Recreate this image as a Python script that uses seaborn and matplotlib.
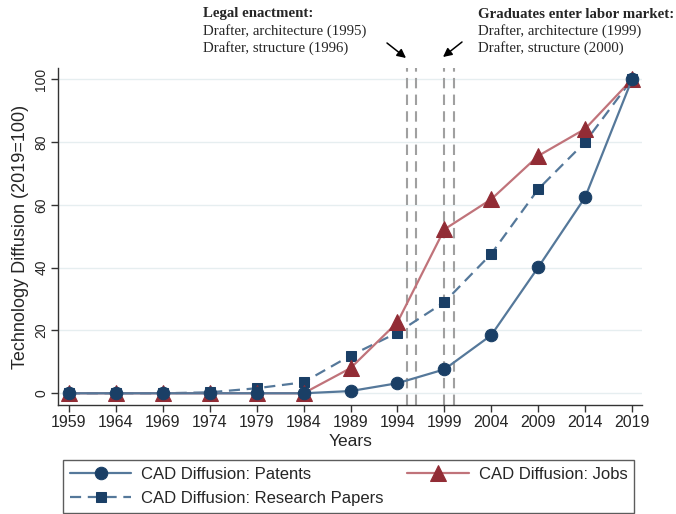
import pandas as pd
import matplotlib.pyplot as plt
import seaborn as sns

# Data
years = [1959, 1964, 1969, 1974, 1979, 1984, 1989, 1994, 1999, 2004, 2009, 2014, 2019]
patents = [0, 0, 0, 0, 0, 0, 0.7, 3.2, 7.6, 18.5, 40.1, 62.4, 100]
jobs = [0, 0, 0, 0, 0, 0, 8.0, 22.6, 52.2, 61.8, 75.6, 84.2, 100]
papers = [0, 0, 0, 0.3, 1.6, 3.5, 12.0, 19.3, 29.0, 44.4, 65.0, 80.0, 100]
event_years = [1995, 1996, 1999, 2000]
y_ticks = [0, 20, 40, 60, 80, 100]

df = pd.DataFrame({'Years': years, 'Patents': patents, 'Jobs': jobs, 'Papers': papers})

sns.set_style('white')
plt.rcParams['font.family'] = ['Liberation Sans', 'DejaVu Sans']

fig = plt.figure(figsize=(6.76, 5.14), dpi=100)
ax = fig.add_axes([0.0858, 0.2121, 0.864, 0.6556])

navy = '#1a3f66'
navy_line = '#55789a'
maroon = '#922c35'
maroon_line = '#c0737a'

# grid
for t in y_ticks:
    ax.axhline(t, color='#e6eef0', lw=1, zorder=0)

# event lines
for yr in event_years:
    ax.axvline(yr, color='#a0a0a0', lw=1.5, ls=(0, (5, 3)), zorder=1)

sns.lineplot(data=df, x='Years', y='Papers', ax=ax, color=navy_line, lw=1.6,
             ls=(0, (5, 3)), marker='s', markersize=7, markerfacecolor=navy,
             markeredgecolor=navy, label='CAD Diffusion: Research Papers', zorder=3)
sns.lineplot(data=df, x='Years', y='Jobs', ax=ax, color=maroon_line, lw=1.6,
             marker='^', markersize=11, markerfacecolor=maroon,
             markeredgecolor=maroon, label='CAD Diffusion: Jobs', zorder=4)
sns.lineplot(data=df, x='Years', y='Patents', ax=ax, color=navy_line, lw=1.6,
             marker='o', markersize=9, markerfacecolor=navy,
             markeredgecolor=navy, label='CAD Diffusion: Patents', zorder=5)

ax.set_xlim(1957.83, 2020.07)
ax.set_ylim(-3.73, 103.6)
ax.set_xticks(years)
ax.set_xticklabels([str(y) for y in years], fontsize=11.5)
ax.set_yticks(y_ticks)
ax.set_yticklabels([str(t) for t in y_ticks], fontsize=10, rotation=90, va='center')
ax.tick_params(axis='both', direction='out', length=5, width=1, color='#333333',
               bottom=True, left=True, pad=2)
ax.set_xlabel('Years', fontsize=12.5, labelpad=3)
ax.set_ylabel('Technology Diffusion (2019=100)', fontsize=13, labelpad=4)
for s in ['top', 'right']:
    ax.spines[s].set_visible(False)
for s in ['left', 'bottom']:
    ax.spines[s].set_color('#333333')
    ax.spines[s].set_linewidth(1)

# legend
handles, labels = ax.get_legend_handles_labels()
order = ['CAD Diffusion: Patents', 'CAD Diffusion: Research Papers', 'CAD Diffusion: Jobs']
hmap = dict(zip(labels, handles))
fig.legend([hmap[l] for l in order], order, ncol=2, loc='lower left',
           bbox_to_anchor=(63 / 676, 0.002), borderaxespad=0, frameon=True,
           fancybox=False, edgecolor='#333333', fontsize=12, handlelength=3.7,
           handletextpad=0.6, columnspacing=1.4, borderpad=0.4, labelspacing=0.55)
ax.get_legend().remove()

# annotations above the plot
serif = ['Liberation Serif', 'DejaVu Serif']
W, H = 676, 514
fig.text(203 / W, 1 - 14 / H, 'Legal enactment:', family=serif, weight='bold',
         fontsize=10.75, va='center')
fig.text(203 / W, 1 - 31 / H, 'Drafter, architecture (1995)', family=serif,
         fontsize=10.75, va='center')
fig.text(203 / W, 1 - 48 / H, 'Drafter, structure (1996)', family=serif,
         fontsize=10.75, va='center')
fig.text(478 / W, 1 - 14 / H, 'Graduates enter labor market:', family=serif, weight='bold',
         fontsize=10.75, va='center')
fig.text(478 / W, 1 - 31 / H, 'Drafter, architecture (1999)', family=serif,
         fontsize=10.75, va='center')
fig.text(478 / W, 1 - 48 / H, 'Drafter, structure (2000)', family=serif,
         fontsize=10.75, va='center')
ax.annotate('', xy=(406 / W, 1 - 58 / H), xytext=(387 / W, 1 - 43 / H),
            xycoords='figure fraction',
            arrowprops=dict(arrowstyle='-|>', color='black', lw=1.1, mutation_scale=13,
                            shrinkA=0, shrinkB=0))
ax.annotate('', xy=(443 / W, 1 - 57 / H), xytext=(462 / W, 1 - 42 / H),
            xycoords='figure fraction',
            arrowprops=dict(arrowstyle='-|>', color='black', lw=1.1, mutation_scale=13,
                            shrinkA=0, shrinkB=0))

fig.savefig('out.png', dpi=100)
